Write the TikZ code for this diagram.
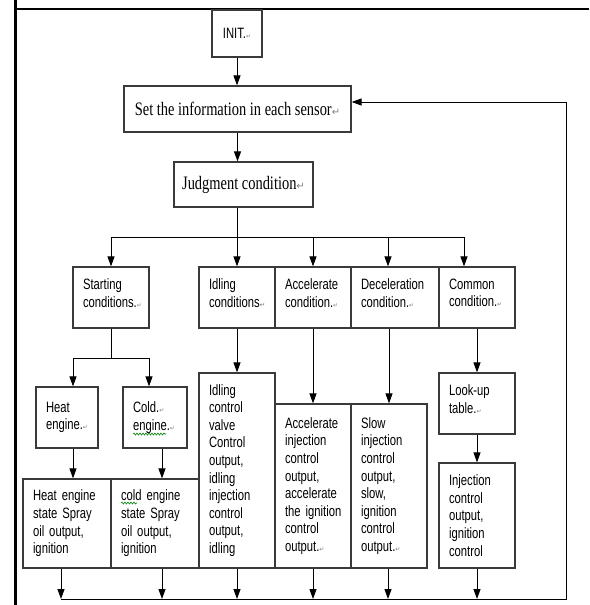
\documentclass[tikz,border=0pt]{standalone}
\usepackage{fontspec}
\usetikzlibrary{arrows.meta, positioning, decorations.pathmorphing}
\setmainfont{Liberation Serif}
\newfontfamily\cellsans[FakeStretch=0.75]{Liberation Sans}
\newfontfamily\headserif[FakeStretch=0.76]{Liberation Serif}
\newfontfamily\markfont{DejaVu Sans}
\definecolor{boxline}{HTML}{3A3A3A}
\newcommand{\pret}{{\fontsize{10}{10}\markfont\textcolor{gray}{↵}}}
\newcommand{\pmark}{{\fontsize{6}{6}\markfont\textcolor{gray}{↵}}}

\begin{document}
\begin{tikzpicture}[x=1pt, y=-1pt, >={Triangle[width=7pt,length=10pt]}, line width=1pt,
  cell/.style={draw=boxline, line width=1.2pt, font=\fontsize{15}{17.6}\cellsans,
    align=left, inner xsep=10pt, inner ysep=0pt, text width=#1,
    execute at begin node={\hyphenpenalty=10000\exhyphenpenalty=10000}},
  lift/.style={text depth=27pt},
  head/.style={draw=boxline, line width=1.2pt, font=\fontsize{19}{22}\headserif,
    inner sep=0pt, align=center},
  spell/.style={green!50!black, line width=0.6pt, decorate,
    decoration={snake, amplitude=1pt, segment length=3pt}}]
  \useasboundingbox[fill=white] (0,0) rectangle (589,605);
  \draw[line width=3pt] (15,0) -- (15,605);
  \draw[line width=2pt] (15,9) -- (589,9);

  \node[cell=30pt, align=center, minimum height=47pt] (init) at (237,33.5) {INIT.\pmark};
  \node[head, minimum width=227pt, minimum height=46pt] (set) at (237.5,109) {Set the information in each sensor\pret};
  \node[head, minimum width=139pt, minimum height=45pt] (judge) at (243.5,184.5) {Judgment condition\pret};

  \node[cell=56pt, lift, minimum height=61pt] (start) at (111,297.5) {Starting\\conditions.\pmark};
  \node[cell=56pt, lift, minimum height=61pt] (idle) at (237,297.5) {Idling\\conditions{\fontsize{7}{7}\markfont\textcolor{gray}{↵}}};
  \node[cell=56pt, lift, minimum height=61pt] (accel) at (313,297.5) {Accelerate\\condition.\pmark};
  \node[cell=68pt, lift, minimum height=61pt] (decel) at (395,297.5) {Deceleration\\condition.\pmark};
  \node[cell=56pt, lift, minimum height=61pt] (common) at (477,297.5) {Common\\condition.\pmark};

  \node[cell=42pt, minimum height=61pt] (heat) at (67,417.5) {Heat\\engine.\pmark};
  \node[cell=44pt, minimum height=61pt] (cold) at (155,417.5) {Cold.\pmark\\engine.\pmark};
  \node[cell=56pt, lift, minimum height=61pt] (lookup) at (477,403.5) {Look-up\\table.\pmark};

  \node[cell=68pt, minimum height=89pt] (heatout) at (67,523.5) {Heat~engine\\state~Spray\\oil~output,\\ignition};
  \node[cell=68pt, minimum height=89pt] (coldout) at (155,523.5) {cold~engine\\state~Spray\\oil~output,\\ignition};
  \node[cell=56pt, minimum height=195pt] (idleout) at (237,470.5) {Idling\\control\\valve\\Control\\output,\\idling\\injection\\control\\output,\\idling};
  \node[cell=56pt, minimum height=164pt] (accelout) at (313,486) {Accelerate\\injection\\control\\output,\\accelerate\\the~ignition\\control\\output.\pmark};
  \node[cell=56pt, minimum height=164pt] (decelout) at (389,486) {Slow\\injection\\control\\output,\\slow,\\ignition\\control\\output.\pmark};
  \node[cell=56pt, minimum height=105pt] (inject) at (477,515.5) {Injection\\control\\output,\\ignition\\control};

  \draw[spell] (133,434) -- (166,434);
  \draw[spell] (121,503) -- (137,503);

  \coordinate (fork) at (237.5,237);
  \coordinate (split) at (111,358);
  \coordinate (back) at (566,599);
  \coordinate (setin) at ([yshift=7pt]set.east);

  \draw[->] (init.south) -- (init.south |- set.north);
  \draw[->] (set.south) -- (set.south |- judge.north);
  \draw (set.south |- judge.south) -- (fork);
  \draw (start.north |- fork) -- ([xshift=-13pt]common.north |- fork);
  \foreach \n/\dx in {start/0, idle/0, accel/0, decel/-7, common/-13}
    \draw[->] ([xshift=\dx pt]\n.north |- fork) -- ([xshift=\dx pt]\n.north);

  \draw (start.south) -- (split);
  \draw ([xshift=6pt]heat.north |- split) -- ([xshift=-6pt]cold.north |- split);
  \draw[->] ([xshift=6pt]heat.north |- split) -- ([xshift=6pt]heat.north);
  \draw[->] ([xshift=-6pt]cold.north |- split) -- ([xshift=-6pt]cold.north);
  \draw[->] ([xshift=6pt]heat.south) -- ([xshift=6pt]heat.south |- heatout.north);
  \draw[->] ([xshift=7pt]cold.south) -- ([xshift=7pt]cold.south |- coldout.north);

  \draw[->] (idle.south) -- (idleout.north);
  \draw[->] (accel.south) -- (accelout.north);
  \draw[->] (decelout.north |- decel.south) -- (decelout.north);
  \draw[->] (common.south) -- (lookup.north);
  \draw[->] (lookup.south) -- (inject.north);

  \foreach \n/\dx in {heatout/-6, coldout/7, idleout/0, accelout/0, decelout/-1, inject/0}
    \draw[->] ([xshift=\dx pt]\n.south) -- ([xshift=\dx pt]\n.south |- back);
  \draw[->] ([xshift=-6pt]heatout.south |- back) -- (back) -- (back |- setin) -- (setin);
\end{tikzpicture}
\end{document}
